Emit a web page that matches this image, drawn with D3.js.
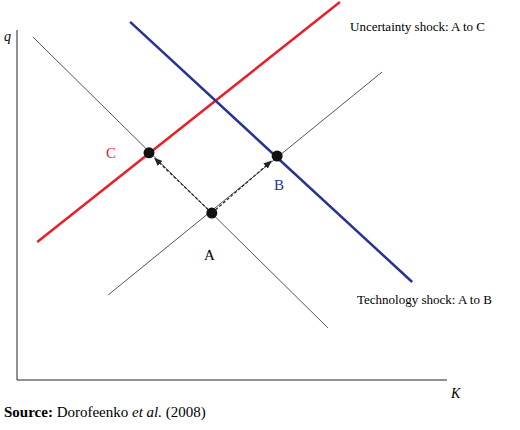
<!DOCTYPE html>
<html><head><meta charset="utf-8">
<script src="https://cdn.jsdelivr.net/npm/d3@7"></script>
<style>body{margin:0;background:#fff}</style>
</head><body><div id="chart"></div>
<script>
// schematic lines, in abstract (K, q) units
const grayDown = [[0.37, 9.8], [7.23, 1.49]];
const grayUp = [[2.12, 2.43], [8.49, 8.8]];
const redLine = [[0.47, 3.94], [7.51, 10.8]];
const blueLine = [[2.63, 10.23], [9.19, 2.8]];
const points = [
  {name: "A", x: 4.53, y: 4.77},
  {name: "B", x: 6.05, y: 6.4},
  {name: "C", x: 3.07, y: 6.49}
];
const arrows = [["A", "B"], ["A", "C"]];

const svg = d3.select("#chart").append("svg")
  .attr("width", 520).attr("height", 430)
  .style("font-family", "'Liberation Serif', serif");

const x = d3.scaleLinear().domain([0, 10]).range([17, 447]);
const y = d3.scaleLinear().domain([0, 10]).range([380, 30]);

svg.append("defs").append("marker")
  .attr("id", "arr").attr("viewBox", "0 0 10 10")
  .attr("refX", 10).attr("refY", 5)
  .attr("markerWidth", 7).attr("markerHeight", 7)
  .attr("orient", "auto")
  .append("path").attr("d", "M0,1L10,5L0,9Z").attr("fill", "#222");

// axes
svg.append("path").attr("d", `M${x(0)},${y(10)}V${y(0)}H${x(10)}`)
  .attr("fill", "none").attr("stroke", "#222").attr("stroke-width", 1);
svg.append("text").attr("x", 4).attr("y", 41).attr("font-style", "italic").attr("font-size", 14).text("q");
svg.append("text").attr("x", 451).attr("y", 398).attr("font-style", "italic").attr("font-size", 14).text("K");

const line = d3.line().x(d => x(d[0])).y(d => y(d[1]));
svg.append("path").attr("d", line(grayDown)).attr("stroke", "#555").attr("stroke-width", 1).attr("fill", "none");
svg.append("path").attr("d", line(grayUp)).attr("stroke", "#555").attr("stroke-width", 1).attr("fill", "none");
svg.append("path").attr("d", line(redLine)).attr("stroke", "#e8202a").attr("stroke-width", 2.5).attr("fill", "none");
svg.append("path").attr("d", line(blueLine)).attr("stroke", "#27338f").attr("stroke-width", 2.5).attr("fill", "none");

const byName = Object.fromEntries(points.map(p => [p.name, p]));
arrows.forEach(([a, b]) => {
  const p = byName[a], q = byName[b];
  const x1 = x(p.x), y1 = y(p.y), x2 = x(q.x), y2 = y(q.y);
  const len = Math.hypot(x2 - x1, y2 - y1), k = (len - 7) / len;
  svg.append("line")
    .attr("x1", x1).attr("y1", y1)
    .attr("x2", x1 + (x2 - x1) * k).attr("y2", y1 + (y2 - y1) * k)
    .attr("stroke", "#222").attr("stroke-width", 1.2)
    .attr("stroke-dasharray", "3,2").attr("marker-end", "url(#arr)");
});

svg.selectAll("circle").data(points).join("circle")
  .attr("cx", d => x(d.x)).attr("cy", d => y(d.y)).attr("r", 5.5).attr("fill", "#111");

svg.append("text").attr("x", 204).attr("y", 260).attr("font-size", 15).text("A");
svg.append("text").attr("x", 274).attr("y", 190).attr("font-size", 15).attr("fill", "#27338f").text("B");
svg.append("text").attr("x", 106).attr("y", 158).attr("font-size", 15).attr("fill", "#e8202a").text("C");

svg.append("text").attr("x", 350).attr("y", 31).attr("font-size", 13).text("Uncertainty shock: A to C");
svg.append("text").attr("x", 357).attr("y", 304).attr("font-size", 13).text("Technology shock: A to B");

const src = svg.append("text").attr("x", 4).attr("y", 417).attr("font-size", 15);
src.append("tspan").attr("font-weight", "bold").text("Source: ");
src.append("tspan").text("Dorofeenko ");
src.append("tspan").attr("font-style", "italic").text("et al.");
src.append("tspan").text(" (2008)");
</script></body></html>
